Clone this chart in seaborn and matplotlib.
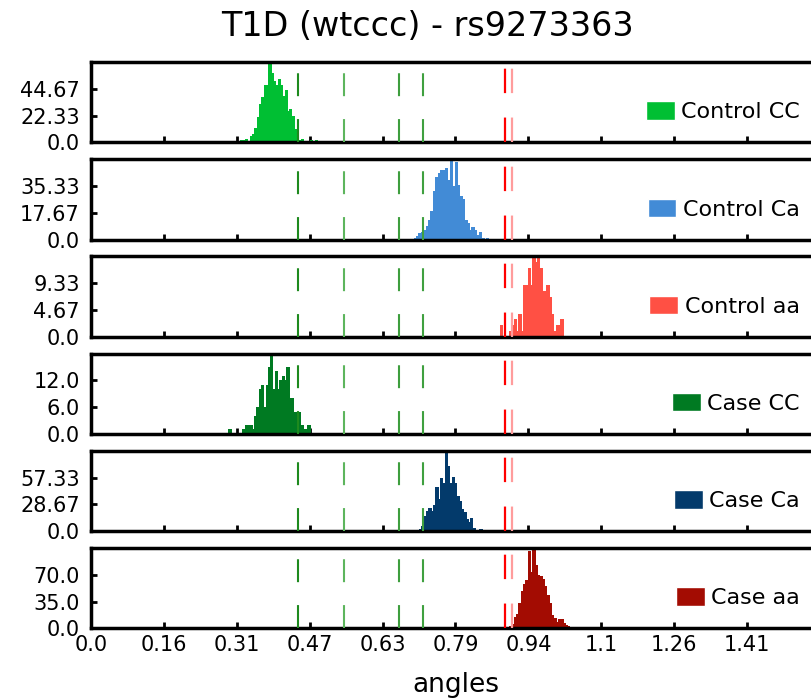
import numpy as np
import pandas as pd
import matplotlib
matplotlib.use("Agg")
import matplotlib.pyplot as plt
import seaborn as sns
from matplotlib.patches import Patch

sns.set_theme(style="white")
plt.rcParams['font.family'] = ['DejaVu Sans']
plt.rcParams.update({"text.color": "black", "axes.labelcolor": "black",
                     "xtick.color": "black", "ytick.color": "black"})

# ---------------- data ----------------
title = "T1D (wtccc) - rs9273363"
labels = ["Control CC", "Control Ca", "Control aa", "Case CC", "Case Ca", "Case aa"]
colors = ["#00BF33", "#428BD6", "#FF5044", "#007A22", "#033A6B", "#A30C02"]

# histogram bin start and bin width for each group (angles)
bin_starts = [0.322, 0.695, 0.881, 0.296, 0.702, 0.856]
bin_widths = [0.005, 0.0052, 0.005, 0.005, 0.005, 0.005]

counts_control_CC = [2, 2, 3, 0, 5, 7, 12, 21, 32, 38, 48, 48, 67, 58, 51, 48, 53, 48, 39, 44,
                     26, 28, 22, 11, 6, 2, 3, 1, 0, 0, 2, 1, 2]
counts_control_Ca = [1, 2, 4, 5, 6, 9, 13, 19, 32, 41, 44, 46, 46, 47, 39, 53, 35, 51, 36, 29,
                     27, 13, 11, 6, 8, 6, 3, 5, 1, 0, 1]
counts_control_aa = [2, 0, 0, 0, 1, 2, 3, 1, 4, 1, 9, 9, 12, 9, 14, 13, 14, 12, 8, 8, 9, 7, 4,
                     1, 2, 2, 3]
counts_case_CC = [1, 0, 0, 0, 0, 0, 1, 2, 2, 2, 1, 4, 6, 10, 11, 6, 11, 15, 18, 10, 14, 10, 12,
                  13, 12, 15, 8, 8, 5, 3, 5, 2, 1, 1, 2]
counts_case_Ca = [1, 2, 5, 16, 21, 25, 21, 28, 47, 34, 57, 51, 86, 70, 51, 58, 51, 38, 32, 24,
                  20, 13, 10, 14, 3, 0, 0, 2]
counts_case_aa = [1, 0, 0, 0, 0, 0, 0, 0, 0, 3, 6, 15, 19, 33, 49, 58, 63, 101, 73, 105, 83, 70,
                  69, 64, 55, 44, 33, 17, 13, 8, 12, 12, 7, 4, 3, 1]
all_counts = [counts_control_CC, counts_control_Ca, counts_control_aa,
              counts_case_CC, counts_case_Ca, counts_case_aa]

y_max = [67, 53, 14, 18, 86, 105]
ytick_labels = [["0.0", "22.33", "44.67"], ["0.0", "17.67", "35.33"], ["0.0", "4.67", "9.33"],
                ["0.0", "6.0", "12.0"], ["0.0", "28.67", "57.33"], ["0.0", "35.0", "70.0"]]

xtick_labels = ["0.0", "0.16", "0.31", "0.47", "0.63", "0.79", "0.94", "1.1", "1.26", "1.41"]

green_lines = [0.446, 0.546, 0.664, 0.715]
green_colors = ["#1E8A1E", "#5DB55D", "#3E9E3E", "#3FA03F"]
red_lines = [0.893, 0.907]
red_colors = ["#FF0000", "#FF9C9C"]

# ---------------- figure ----------------
W, H = 812, 698
fig = plt.figure(figsize=(W / 100, H / 100), dpi=100)

left_px, right_px = 91, 820
bottom0_px, panel_h_px, step_px = 142.3, 80.3, 97.2

xmax = np.pi / 2
xtick_pos = [i * np.pi / 20 for i in range(len(xtick_labels))]

axes = []
for i in range(6):
    b = (H - (bottom0_px + step_px * i)) / H
    ax = fig.add_axes([left_px / W, b, (right_px - left_px) / W, panel_h_px / H])
    axes.append(ax)
    counts = list(all_counts[i])
    n = len(counts)
    start, w = bin_starts[i], bin_widths[i]
    centers = [start + w * (k + 0.5) for k in range(n)]
    df = pd.DataFrame({"angle": centers, "count": counts})
    sns.histplot(data=df, x="angle", weights="count", bins=n, binrange=(start, start + n * w),
                 color=colors[i], alpha=1.0, linewidth=0.4, edgecolor=colors[i],
                 antialiased=False, ax=ax, zorder=2)
    for xv, c in zip(green_lines, green_colors):
        ax.axvline(xv, ymin=0, ymax=1, color=c, lw=1.5, linestyle=(0, (11, 11)), zorder=3)
    for xv, c in zip(red_lines, red_colors):
        ax.axvline(xv, ymin=0, ymax=1, color=c, lw=1.6, linestyle=(0, (11, 11)), zorder=3)

    ax.set_xlim(0, xmax)
    ax.set_ylim(0, y_max[i])
    ax.set_yticks([0, y_max[i] / 3, 2 * y_max[i] / 3])
    ax.set_yticklabels(ytick_labels[i])
    ax.set_xticks(xtick_pos)
    if i == 5:
        ax.set_xticklabels(xtick_labels)
    else:
        ax.set_xticklabels([])
    ax.set_ylabel("")
    ax.set_xlabel("")
    for s in ax.spines.values():
        s.set_linewidth(2.5)
        s.set_color("black")
        s.set_visible(True)
    ax.tick_params(axis="both", direction="in", length=4, width=2, color="black",
                   labelsize=15, labelcolor="black")
    ax.tick_params(axis="y", pad=8)
    ax.tick_params(axis="x", pad=5)
    ax.tick_params(top=False, right=False, bottom=True, left=True)
    ax.set_facecolor("white")
    ax.grid(False)
    ax.legend(handles=[Patch(facecolor=colors[i], label=labels[i])], loc="lower right",
              frameon=False, fontsize=16, handlelength=1.3, handleheight=0.9,
              handletextpad=0.3, borderaxespad=0.5, labelcolor="black")

axes[5].set_xlabel("angles", fontsize=19, labelpad=12, color="black")
fig.text(427 / W, 1 - 27 / H, title, ha="center", va="center", fontsize=24, color="black")

fig.savefig("out.png", dpi=100)
